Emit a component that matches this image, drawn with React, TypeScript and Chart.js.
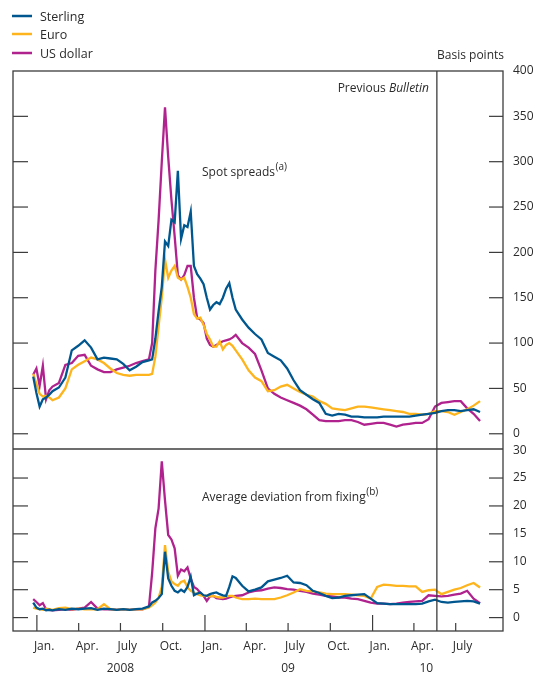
import { useEffect, useRef } from 'react';
import { Chart, registerables } from 'chart.js';

Chart.register(...registerables);

// ---------- data ----------
const dates = [
  '2007-12-24','2007-12-31','2008-01-07','2008-01-14','2008-01-21','2008-01-28','2008-02-04','2008-02-18','2008-03-03','2008-03-17',
  '2008-03-31','2008-04-14','2008-04-28','2008-05-12','2008-05-26','2008-06-09','2008-06-23','2008-07-07','2008-07-21','2008-08-04',
  '2008-08-18','2008-09-01','2008-09-08','2008-09-15','2008-09-22','2008-09-29','2008-10-06','2008-10-13','2008-10-20','2008-10-27',
  '2008-11-03','2008-11-10','2008-11-17','2008-11-24','2008-12-01','2008-12-08','2008-12-15','2008-12-22','2008-12-29','2009-01-05',
  '2009-01-12','2009-01-19','2009-01-26','2009-02-02','2009-02-09','2009-02-16','2009-02-23','2009-03-02','2009-03-09','2009-03-23',
  '2009-04-06','2009-04-20','2009-05-04','2009-05-18','2009-06-01','2009-06-15','2009-06-29','2009-07-13','2009-07-27','2009-08-10',
  '2009-08-24','2009-09-07','2009-09-21','2009-10-05','2009-10-19','2009-11-02','2009-11-16','2009-11-30','2009-12-14','2009-12-28',
  '2010-01-11','2010-01-25','2010-02-08','2010-02-22','2010-03-08','2010-03-22','2010-04-05','2010-04-19','2010-05-03','2010-05-17',
  '2010-05-31','2010-06-14','2010-06-28','2010-07-12','2010-07-26','2010-08-09','2010-08-23'
];

// Spot spreads, basis points
const sterlingSpot = [
  63,45,30,38,40,43,47,51,62,92,
  97,103,95,82,84,83,82,77,70,74,
  79,81,82,105,135,162,212,207,236,233,
  290,215,230,228,245,185,176,171,165,150,
  137,142,145,143,150,160,166,150,137,126,
  117,110,104,89,85,81,72,59,48,43,
  38,34,22,20,22,21,19,19,18,18,
  18,19,19,19,19,19,20,21,22,23,
  25,26,26,25,26,27,24
];
const euroSpot = [
  66,55,44,41,42,40,37,40,50,71,
  76,80,84,82,78,72,67,65,64,65,
  65,65,66,85,118,150,192,172,180,185,
  172,170,172,162,150,132,127,128,120,110,
  104,96,96,102,93,98,100,97,92,82,
  70,62,58,47,48,52,54,50,46,43,
  41,36,33,28,27,26,28,30,30,29,
  28,27,26,25,24,22,22,21,22,25,
  25,24,21,24,27,31,36
];
const dollarSpot = [
  65,72,53,75,38,48,52,56,76,78,
  86,87,75,71,68,68,71,73,75,78,
  80,82,100,180,235,300,360,305,258,218,
  175,170,175,185,185,150,128,126,122,105,
  98,96,98,100,102,103,104,106,109,100,
  95,88,70,50,44,40,37,34,31,27,
  21,15,14,14,14,15,15,13,10,11,
  12,12,10,8,10,11,12,12,16,30,
  34,35,36,36,28,22,14
];

// Average deviation from fixing
const sterlingDev = [
  2.7,1.8,1.5,1.6,1.3,1.4,1.3,1.5,1.4,1.6,
  1.5,1.6,1.7,1.4,1.6,1.5,1.4,1.5,1.4,1.5,
  1.6,2.0,2.7,3.0,3.5,4.2,11.8,7.0,5.7,4.8,
  4.5,5.0,4.6,5.5,7.3,4.0,4.3,4.5,4.0,3.9,
  4.2,4.4,4.5,4.2,4.0,3.9,5.5,7.4,7.1,5.7,
  4.7,5.0,5.4,6.5,6.8,7.1,7.5,6.3,6.2,5.8,
  4.8,4.4,3.9,3.5,3.6,3.9,4.0,4.1,4.2,3.4,
  2.6,2.5,2.4,2.4,2.4,2.4,2.4,2.5,2.9,3.2,
  2.8,2.7,2.8,2.9,3.0,2.9,2.5
];
const euroDev = [
  1.8,1.6,1.5,1.4,1.6,1.5,1.4,1.7,1.8,1.5,
  1.6,1.5,1.5,1.5,2.4,1.5,1.4,1.5,1.4,1.5,
  1.5,1.8,2.2,2.7,3.5,5.5,13.0,8.2,6.5,6.0,
  5.7,6.4,6.6,5.4,4.8,4.5,4.2,4.0,3.9,3.9,
  3.8,3.9,3.7,3.6,3.6,3.8,3.9,3.9,3.6,3.3,
  3.3,3.4,3.3,3.3,3.3,3.6,4.0,4.5,5.1,4.8,
  4.7,4.5,4.3,4.2,4.2,4.2,4.1,4.0,3.9,3.4,
  5.5,5.9,5.8,5.7,5.7,5.6,5.6,4.6,4.9,5.0,
  4.2,4.6,5.0,5.3,5.8,6.2,5.4
];
const dollarDev = [
  3.3,2.8,2.2,2.6,1.5,1.4,1.3,1.4,1.5,1.4,
  1.6,1.8,2.8,1.6,1.5,1.5,1.4,1.5,1.4,1.5,
  1.5,1.9,8.0,16.0,19.5,28.0,21.0,14.8,14.0,12.4,
  7.5,8.6,8.3,9.0,7.0,5.5,5.1,4.4,3.9,3.0,
  3.8,3.9,3.5,3.4,3.3,3.4,3.6,3.8,3.9,4.0,
  4.5,4.8,4.9,5.2,5.4,5.3,5.1,5.0,4.8,4.6,
  4.3,4.1,3.9,3.8,3.6,3.6,3.4,3.3,3.0,2.7,
  2.5,2.5,2.4,2.5,2.7,2.8,2.9,3.0,4.0,3.9,
  3.8,3.9,4.1,4.3,4.8,3.4,2.6
];

const seriesNames = ['Sterling', 'Euro', 'US dollar'];
const seriesColors = ['#00578f', '#fdb41d', '#b0228e'];

const tickDates = ['2008-01-01','2008-04-01','2008-07-01','2008-10-01','2009-01-01','2009-04-01','2009-07-01','2009-10-01','2010-01-01','2010-04-01','2010-07-01'];
const tickLabels = ['Jan.','Apr.','July','Oct.','Jan.','Apr.','July','Oct.','Jan.','Apr.','July'];
const yearLabels = ['2008', '09', '10'];
const yearLabelDates = ['2008-07-01', '2009-07-01', '2010-04-28'];
const spotTicks = [0, 50, 100, 150, 200, 250, 300, 350, 400];
const devTicks = [0, 5, 10, 15, 20, 25, 30];
const bulletinDate = '2010-05-21';
const xMinDate = '2007-11-10';
const xMaxDate = '2010-10-12';

// ---------- helpers ----------
const FONT = "'Open Sans', 'Noto Sans', sans-serif";
const TEXT = '#2b2b2b';
const FRAME = '#3c3c3c';

function day(s: string): number {
  const [y, m, d] = s.split('-').map(Number);
  return (Date.UTC(y, m - 1, d) - Date.UTC(2008, 0, 1)) / 86400000;
}

function pts(values: number[]) {
  return dates.map((d, i) => ({ x: day(d), y: values[i] }));
}

function line(ctx: CanvasRenderingContext2D, x1: number, y1: number, x2: number, y2: number) {
  ctx.beginPath();
  ctx.moveTo(x1, y1);
  ctx.lineTo(x2, y2);
  ctx.stroke();
}

function supText(ctx: CanvasRenderingContext2D, main: string, sup: string, x: number, y: number) {
  ctx.font = `12px ${FONT}`;
  ctx.textAlign = 'left';
  ctx.textBaseline = 'middle';
  ctx.fillText(main, x, y);
  const w = ctx.measureText(main).width;
  ctx.font = `10px ${FONT}`;
  ctx.fillText(sup, x + w + 0.5, y - 6);
}

const decor = {
  id: 'decor',
  afterDatasetsDraw(chart: any) {
    const { ctx, chartArea: a, scales } = chart;
    const xs = scales.x, ys = scales.y, ys2 = scales.y2;
    ctx.save();
    ctx.strokeStyle = FRAME;
    ctx.lineWidth = 1.3;
    ctx.strokeRect(a.left, a.top, a.right - a.left, a.bottom - a.top);
    const topPanel = ys.top < ys2.top ? ys : ys2;
    line(ctx, a.left, topPanel.bottom, a.right, topPanel.bottom);
    const bx = xs.getPixelForValue(day(bulletinDate));
    line(ctx, bx, a.top, bx, a.bottom);
    ctx.lineWidth = 1.2;
    spotTicks.forEach((v) => {
      if (v >= 400) return;
      const py = ys.getPixelForValue(v);
      line(ctx, a.left, py, a.left + 15, py);
      line(ctx, a.right - 14, py, a.right, py);
    });
    devTicks.forEach((v) => {
      if (v >= 30) return;
      const py = ys2.getPixelForValue(v);
      line(ctx, a.left, py, a.left + 15, py);
      line(ctx, a.right - 14, py, a.right, py);
    });
    tickDates.forEach((d, i) => {
      const px = xs.getPixelForValue(day(d));
      const len = tickLabels[i] === 'Jan.' ? 16 : 8;
      line(ctx, px, a.bottom, px, a.bottom - len);
    });
    ctx.restore();
  },
  afterDraw(chart: any) {
    const { ctx, scales } = chart;
    const xs = scales.x;
    ctx.save();
    ctx.fillStyle = TEXT;
    // legend
    seriesNames.forEach((name, i) => {
      const ly = [16, 34, 53][i];
      ctx.strokeStyle = seriesColors[i];
      ctx.lineWidth = 2.5;
      line(ctx, 12, ly, 32, ly);
      ctx.font = `12.5px ${FONT}`;
      ctx.textAlign = 'left';
      ctx.textBaseline = 'middle';
      ctx.fillText(name, 40, ly + 1);
    });
    // units
    ctx.font = `12px ${FONT}`;
    ctx.textAlign = 'right';
    ctx.textBaseline = 'middle';
    ctx.fillText('Basis points', 504, 56);
    // previous bulletin
    ctx.font = `italic 12px ${FONT}`;
    const wb = ctx.measureText('Bulletin').width;
    ctx.fillText('Bulletin', 429, 89);
    ctx.font = `12px ${FONT}`;
    ctx.fillText('Previous ', 429 - wb, 89);
    // panel titles
    supText(ctx, 'Spot spreads', '(a)', 202, 173);
    supText(ctx, 'Average deviation from fixing', '(b)', 202, 498);
    // years
    ctx.font = `12px ${FONT}`;
    ctx.textAlign = 'center';
    ctx.textBaseline = 'middle';
    yearLabels.forEach((lab, i) => {
      ctx.fillText(lab, xs.getPixelForValue(day(yearLabelDates[i])), 669);
    });
    ctx.restore();
  },
};

export default function App() {
  const ref = useRef<HTMLCanvasElement | null>(null);
  useEffect(() => {
    if (!ref.current) return;
    const mk = (i: number, values: number[], axis: string) => ({
      label: seriesNames[i],
      data: pts(values),
      borderColor: seriesColors[i],
      backgroundColor: seriesColors[i],
      borderWidth: 2.3,
      pointRadius: 0,
      tension: 0,
      fill: false,
      yAxisID: axis,
      order: i,
    });
    const yCommon = {
      type: 'linear' as const,
      position: 'right' as const,
      stack: 'panels',
      grid: { display: false, drawTicks: false },
      border: { display: false },
      ticks: { padding: 10, autoSkip: false, color: TEXT, font: { family: FONT, size: 12 } },
      afterFit: (s: any) => { s.width = 41; },
    };
    const chart = new Chart(ref.current, {
      type: 'line',
      data: {
        datasets: [
          mk(0, sterlingSpot, 'y'), mk(1, euroSpot, 'y'), mk(2, dollarSpot, 'y'),
          mk(0, sterlingDev, 'y2'), mk(1, euroDev, 'y2'), mk(2, dollarDev, 'y2'),
        ],
      },
      options: {
        responsive: false,
        animation: false,
        devicePixelRatio: 1,
        layout: { padding: { left: 13, top: 71, right: 0, bottom: 0 } },
        plugins: { legend: { display: false }, tooltip: { enabled: false } },
        scales: {
          x: {
            type: 'linear',
            position: 'bottom',
            min: day(xMinDate),
            max: day(xMaxDate),
            grid: { display: false, drawTicks: false },
            border: { display: false },
            afterBuildTicks: (s: any) => { s.ticks = tickDates.map((d) => ({ value: day(d) })); },
            afterFit: (s: any) => { s.height = 46; },
            ticks: {
              autoSkip: false, maxRotation: 0, align: 'start', labelOffset: -3, padding: 8,
              color: TEXT, font: { family: FONT, size: 12 },
              callback: (_v: any, i: number) => tickLabels[i],
            },
          },
          y: {
            ...yCommon,
            stackWeight: 378,
            min: -16.8,
            max: 400,
            afterBuildTicks: (s: any) => { s.ticks = spotTicks.map((v) => ({ value: v })); },
          },
          y2: {
            ...yCommon,
            stackWeight: 182,
            min: -2.4,
            max: 30.2,
            afterBuildTicks: (s: any) => { s.ticks = devTicks.map((v) => ({ value: v })); },
          },
        },
      } as any,
      plugins: [decor],
    });
    return () => chart.destroy();
  }, []);
  return (
    <div style={{ position: 'absolute', left: 0, top: 0, width: 544, height: 677, background: '#fff' }}>
      <canvas ref={ref} width={544} height={677} style={{ width: 544, height: 677, display: 'block' }} />
    </div>
  );
}
